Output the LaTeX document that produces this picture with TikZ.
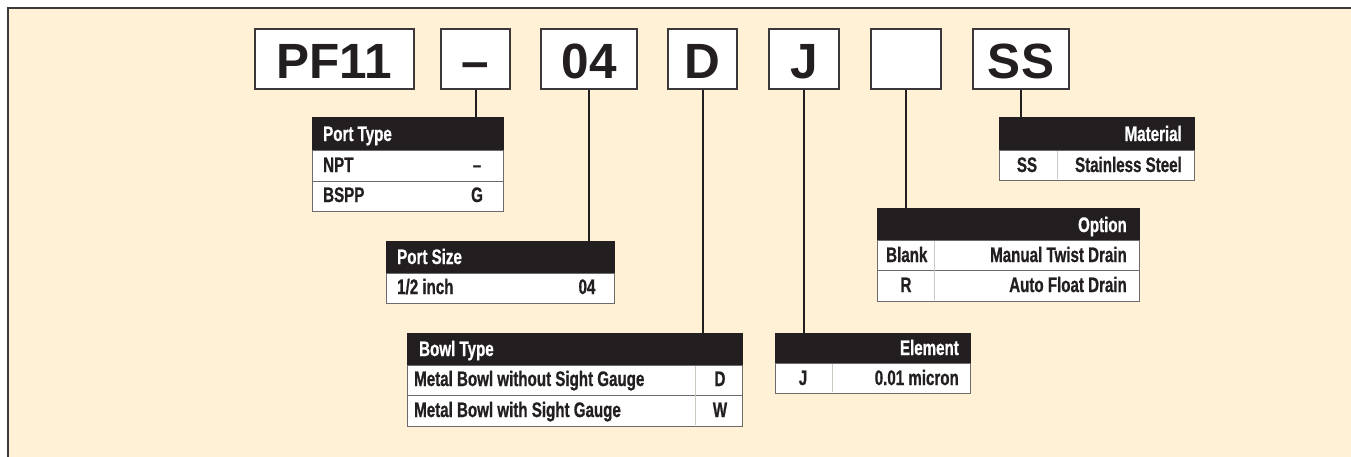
\documentclass[tikz,border=0pt]{standalone}
\usepackage{fontspec}
\setmainfont{Liberation Sans}
\newfontfamily\cond[FakeStretch=0.72,FakeBold=0.8]{Liberation Sans}
\definecolor{bgcream}{RGB}{254,241,213}
\definecolor{hdrblack}{RGB}{35,31,32}
\definecolor{framegray}{RGB}{60,56,58}
\definecolor{sepgray}{RGB}{205,200,194}
\tikzset{
  codebox/.style={draw=framegray, line width=1.5pt, fill=white, inner sep=0pt,
    text height=38pt, text depth=0pt,
    font=\fontsize{49.5}{50}\selectfont\bfseries, text=hdrblack},
  hdr/.style={fill=hdrblack, draw=hdrblack, line width=0.8pt, anchor=north west, inner sep=0pt},
  cell/.style={fill=white, draw=framegray!75, line width=1pt, anchor=north west, inner sep=0pt},
  tw/.style={inner sep=0pt, text=white, font=\cond\fontsize{21}{22}\selectfont\bfseries},
  tb/.style={inner sep=0pt, text=hdrblack, font=\cond\fontsize{21}{22}\selectfont\bfseries},
  conn/.style={draw=hdrblack, line width=2pt},
  sep/.style={draw=sepgray, line width=0.8pt}
}
\begin{document}
\begin{tikzpicture}[x=1pt,y=-1pt]
\useasboundingbox (0,0) rectangle (1351,456);
\fill[white] (0,0) rectangle (1351,456);
\fill[bgcream] (8,8) rectangle (1365,470);
\draw[framegray, line width=1.6pt] (1365,8) -- (8,8) -- (8,470);

% code boxes
\node[codebox, minimum width=159, minimum height=60] (pf) at (334.5,59) {PF11};
\node[codebox, minimum width=69, minimum height=60] (dash) at (475.5,59) {\textendash};
\node[codebox, minimum width=96, minimum height=60] (size) at (589,59) {04};
\node[codebox, minimum width=69, minimum height=60] (bowl) at (702.5,59) {D};
\node[codebox, minimum width=70, minimum height=60] (elem) at (804,59) {J};
\node[codebox, minimum width=70, minimum height=60] (opt) at (906,59) {};
\node[codebox, minimum width=96, minimum height=60] (mat) at (1021,59) {SS};

% Port Type
\node[hdr, minimum width=191, minimum height=33] (pth) at (312,117) {};
\node[cell, minimum width=191, minimum height=31] (pt1) at (312,150) {};
\node[cell, minimum width=191, minimum height=30] (pt2) at (312,181) {};
\node[tw, anchor=base west] (ptht) at (323,141) {Port Type};
\node[tb, anchor=base west] (pt1a) at (323,172) {NPT};
\node[tb, anchor=base] (pt1b) at (477,172) {\textendash};
\node[tb, anchor=base west] (pt2a) at (323,202) {BSPP};
\node[tb, anchor=base] (pt2b) at (477,202) {G};

% Port Size
\node[hdr, minimum width=228, minimum height=32] (psh) at (386,241) {};
\node[cell, minimum width=228, minimum height=30] (ps1) at (386,273) {};
\node[tw, anchor=base west] (psht) at (397,264) {Port Size};
\node[tb, anchor=base west] (ps1a) at (397,294) {1/2 inch};
\node[tb, anchor=base] (ps1b) at (587,294) {04};

% Bowl Type
\node[hdr, minimum width=335, minimum height=32] (bth) at (407,333) {};
\node[cell, minimum width=335, minimum height=30] (bt1) at (407,365) {};
\node[cell, minimum width=335, minimum height=31] (bt2) at (407,395) {};
\draw[sep] (695,366) -- (695,425);
\node[tw, anchor=base west] (btht) at (419,356) {Bowl Type};
\node[tb, anchor=base west] (bt1a) at (414,386) {Metal Bowl without Sight Gauge};
\node[tb, anchor=base] (bt1b) at (720,386) {D};
\node[tb, anchor=base west] (bt2a) at (414,417) {Metal Bowl with Sight Gauge};
\node[tb, anchor=base] (bt2b) at (720,417) {W};

% Element
\node[hdr, minimum width=195, minimum height=30] (elh) at (775,333) {};
\node[cell, minimum width=195, minimum height=30] (el1) at (775,363) {};
\draw[sep] (832,364) -- (832,392);
\node[tw, anchor=base east] (elht) at (959,355) {Element};
\node[tb, anchor=base] (el1a) at (803,385) {J};
\node[tb, anchor=base east] (el1b) at (959,385) {0.01 micron};

% Material
\node[hdr, minimum width=195, minimum height=33] (mah) at (999,117) {};
\node[cell, minimum width=195, minimum height=30] (ma1) at (999,150) {};
\draw[sep] (1057,151) -- (1057,179);
\node[tw, anchor=base east] (maht) at (1182,141) {Material};
\node[tb, anchor=base] (ma1a) at (1027,172) {SS};
\node[tb, anchor=base east] (ma1b) at (1182,172) {Stainless Steel};

% Option
\node[hdr, minimum width=262, minimum height=32] (oph) at (877,208) {};
\node[cell, minimum width=262, minimum height=30] (op1) at (877,240) {};
\node[cell, minimum width=262, minimum height=31] (op2) at (877,270) {};
\draw[sep] (934,241) -- (934,300);
\node[tw, anchor=base east] (opht) at (1127,232) {Option};
\node[tb, anchor=base west] (op1a) at (886,262) {Blank};
\node[tb, anchor=base east] (op1b) at (1127,262) {Manual Twist Drain};
\node[tb, anchor=base] (op2a) at (906,292) {R};
\node[tb, anchor=base east] (op2b) at (1127,292) {Auto Float Drain};

% connectors
\draw[conn] (dash.south) -- (dash.south |- pth.north);
\draw[conn] (size.south) -- (size.south |- psh.north);
\draw[conn] (bowl.south) -- (bowl.south |- bth.north);
\draw[conn] (elem.south) -- (elem.south |- elh.north);
\draw[conn] (opt.south) -- (opt.south |- oph.north);
\draw[conn] (mat.south) -- (mat.south |- mah.north);
\end{tikzpicture}
\end{document}
